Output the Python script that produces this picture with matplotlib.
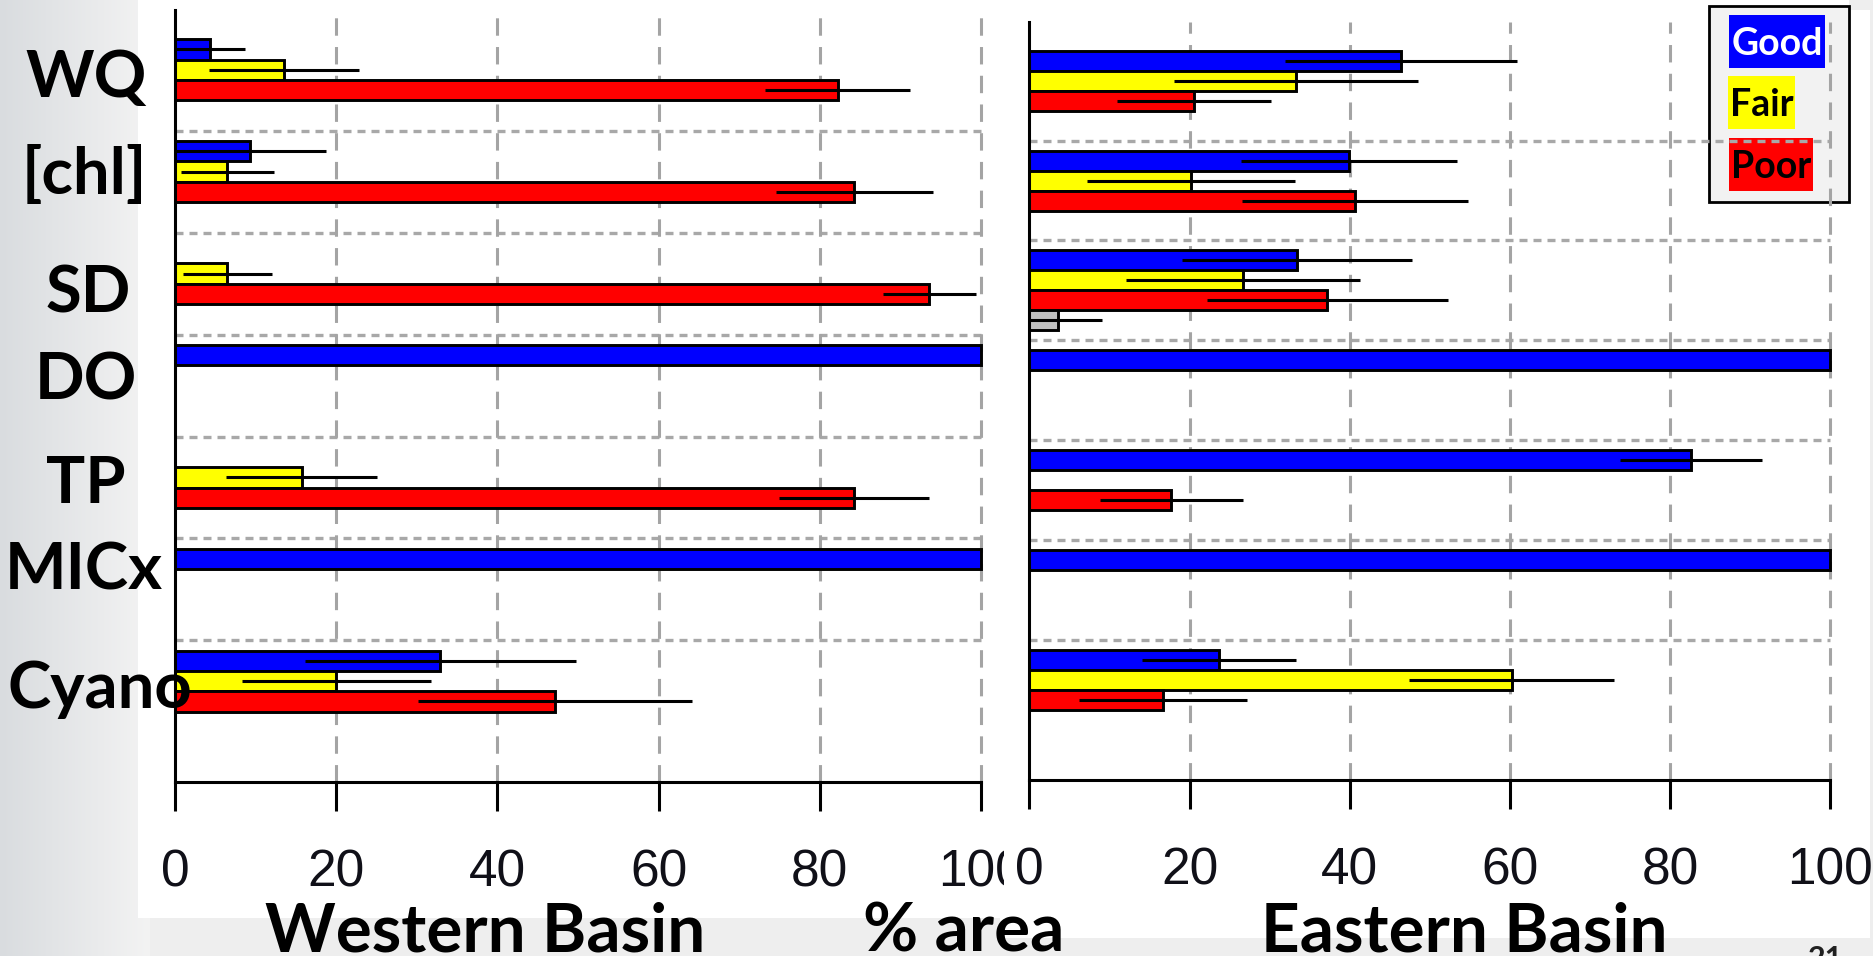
import matplotlib
matplotlib.use("Agg")
import matplotlib.pyplot as plt
import numpy as np
from matplotlib.patches import Rectangle
from matplotlib.transforms import Bbox, TransformedBbox
from matplotlib.colors import LinearSegmentedColormap

# ---------------- data ----------------
categories = ['WQ', '[chl]', 'SD', 'DO', 'TP', 'MICx', 'Cyano']
series_names = ['Good', 'Fair', 'Poor', 'Other']

west_good = [4.4, 9.3, 0, 100, 0, 100, 32.9]
west_good_err = [4.3, 9.4, 0, 0, 0, 0, 16.8]
west_fair = [13.5, 6.5, 6.5, 0, 15.7, 0, 20.0]
west_fair_err = [9.3, 5.8, 5.5, 0, 9.4, 0, 11.7]
west_poor = [82.2, 84.3, 93.6, 0, 84.3, 0, 47.1]
west_poor_err = [9.0, 9.7, 5.8, 0, 9.3, 0, 17.0]
west_other = [0, 0, 0, 0, 0, 0, 0]
west_other_err = [0, 0, 0, 0, 0, 0, 0]

east_good = [46.4, 39.9, 33.4, 100, 82.6, 100, 23.7]
east_good_err = [14.5, 13.5, 14.4, 0, 8.9, 0, 9.6]
east_fair = [33.3, 20.2, 26.7, 0, 0, 0, 60.2]
east_fair_err = [15.2, 13.0, 14.6, 0, 0, 0, 12.8]
east_poor = [20.5, 40.6, 37.2, 0, 17.7, 0, 16.7]
east_poor_err = [9.6, 14.1, 15.0, 0, 8.9, 0, 10.5]
east_other = [0, 0, 3.5, 0, 0, 0, 0]
east_other_err = [0, 0, 5.5, 0, 0, 0, 0]

x_ticks = [0, 20, 40, 60, 80, 100]
x_ticklabels = ['0', '20', '40', '60', '80', '100']

# ---------------- style ----------------
W, H = 1874, 956
colors = ['#0000FF', '#FFFF00', '#FF0000', '#C0C0C0']
offsets = [-0.3, -0.1, 0.1, 0.3]
bar_h = 0.2
BOLD = ['Lato', 'DejaVu Sans']
NARROW = ['Liberation Sans Narrow', 'Liberation Sans', 'DejaVu Sans']

fig = plt.figure(figsize=(W / 100, H / 100), dpi=100)
fig.patch.set_facecolor('#ececec')


def fx(px):
    return px / W


def fy(py):
    return 1 - py / H


# background (slide)
bg = fig.add_axes([0, 0, 1, 1], zorder=0)
bg.set_xlim(0, W)
bg.set_ylim(H, 0)
bg.axis('off')
grad = np.linspace(0, 1, 256).reshape(1, -1)
cm = LinearSegmentedColormap.from_list('g', ['#d9dcdf', '#f3f3f3'])
bg.imshow(grad, extent=[0, 150, H, 0], aspect='auto', cmap=cm, zorder=0)
bg.add_patch(Rectangle((150, 0), W - 150, H, facecolor='#eeeeee', edgecolor='none', zorder=0))
bg.add_patch(Rectangle((138, 0), 1061 - 138, 918, facecolor='white', edgecolor='none', zorder=1))
bg.add_patch(Rectangle((1000, 0), 1870 - 1000, 938, facecolor='white', edgecolor='none', zorder=1))
bg.add_patch(Rectangle((1849, 0), W - 1849, 10, facecolor='#eeeeee', edgecolor='none', zorder=1))


def panel(rect_px, ylim, good, good_e, fair, fair_e, poor, poor_e, other, other_e):
    x0, y0, x1, y1 = rect_px
    ax = fig.add_axes([fx(x0), fy(y1), fx(x1 - x0), (y1 - y0) / H], zorder=2)
    ax.set_facecolor('none')
    ax.set_xlim(0, 101)
    ax.set_ylim(*ylim)
    pos = np.arange(len(categories))
    vals = [good, fair, poor, other]
    errs = [good_e, fair_e, poor_e, other_e]
    for k in range(4):
        v = np.array(vals[k], dtype=float)
        e = np.array(errs[k], dtype=float)
        m = v > 0
        ax.barh(pos[m] + offsets[k], v[m], height=bar_h, color=colors[k],
                edgecolor='black', linewidth=2.1, zorder=2)
        me = e > 0
        ax.errorbar(v[me], pos[me] + offsets[k], xerr=e[me], fmt='none',
                    ecolor='black', elinewidth=2.2, capsize=0, zorder=3)
    # horizontal dotted separators
    ax.hlines(pos[:-1] + 0.5, 0, 100, colors='#a8a8a8', linewidth=2.4,
              linestyles=(0, (2.4, 1.8)), zorder=1)
    # vertical dashed gridlines
    for xv in x_ticks[1:]:
        ax.axvline(xv, color='#a4a4a4', linewidth=2.2, linestyle=(0, (5.7, 3.7)), zorder=1)
    for s in ['top', 'right']:
        ax.spines[s].set_visible(False)
    ax.spines['left'].set_linewidth(2.2)
    ax.spines['bottom'].set_linewidth(2.2)
    ax.spines['bottom'].set_bounds(0, 100)
    ax.set_yticks([])
    ax.set_xticks(x_ticks)
    ax.set_xticklabels(x_ticklabels, fontfamily=NARROW, fontsize=37, color='#101018')
    ax.tick_params(axis='x', direction='out', length=21, width=2.2, pad=27)
    return ax


ax_w = panel((175, 10, 175 + 101 * 8.06, 782), (6.89, -0.686),
             west_good, west_good_err, west_fair, west_fair_err,
             west_poor, west_poor_err, west_other, west_other_err)
ax_e = panel((1029.5, 21.7, 1029.5 + 101 * 8.01, 780), (6.906, -0.692),
             east_good, east_good_err, east_fair, east_fair_err,
             east_poor, east_poor_err, east_other, east_other_err)

# clip west "100" label like the reference
clipbox = TransformedBbox(Bbox([[0, 0], [fx(1004), 1]]), fig.transFigure)
for lab in ax_w.get_xticklabels():
    lab.set_clip_on(True)
    lab.set_clip_box(clipbox)

# category labels (left)
label_pos = [(86, 97), (84, 194), (88, 312), (86, 400), (86, 503), (84, 590), (100, 708)]
for name, (px, py) in zip(categories, label_pos):
    fig.text(fx(px), fy(py), name, ha='center', va='baseline', fontsize=47,
             fontweight='bold', family=BOLD, color='black', zorder=5)

# bottom titles
fig.text(fx(265), fy(952), 'Western Basin', ha='left', va='baseline', fontsize=48.5,
         fontweight='bold', family=BOLD, color='black')
fig.text(fx(863), fy(952), '% area', ha='left', va='baseline', fontsize=48.5,
         fontweight='bold', family=BOLD, color='black')
fig.text(fx(1261), fy(952), 'Eastern Basin', ha='left', va='baseline', fontsize=48.5,
         fontweight='bold', family=BOLD, color='black')
fig.text(fx(1808), fy(945), '21', ha='left', va='top', fontsize=22,
         fontweight='bold', family=BOLD, color='#202020')

# legend box
bg.add_patch(Rectangle((1709, 6), 140, 196, facecolor='#f2f2f2', edgecolor='black',
                       linewidth=2.0, zorder=6))
leg_rects = [(1729, 15, 96, 53), (1728, 76, 67, 53), (1729, 138, 84, 53)]
leg_text_colors = ['white', 'black', 'black']
for name, (lx, ly, lw, lh), c, tc in zip(series_names[:3], leg_rects, colors[:3], leg_text_colors):
    bg.add_patch(Rectangle((lx, ly), lw, lh, facecolor=c, edgecolor='none', zorder=7))
    bg.text(lx + lw / 2, ly + lh / 2 + 2, name, ha='center', va='center', fontsize=27,
            fontweight='bold', family=BOLD, color=tc, zorder=8)

fig.savefig('out.png', dpi=100, facecolor=fig.get_facecolor())
